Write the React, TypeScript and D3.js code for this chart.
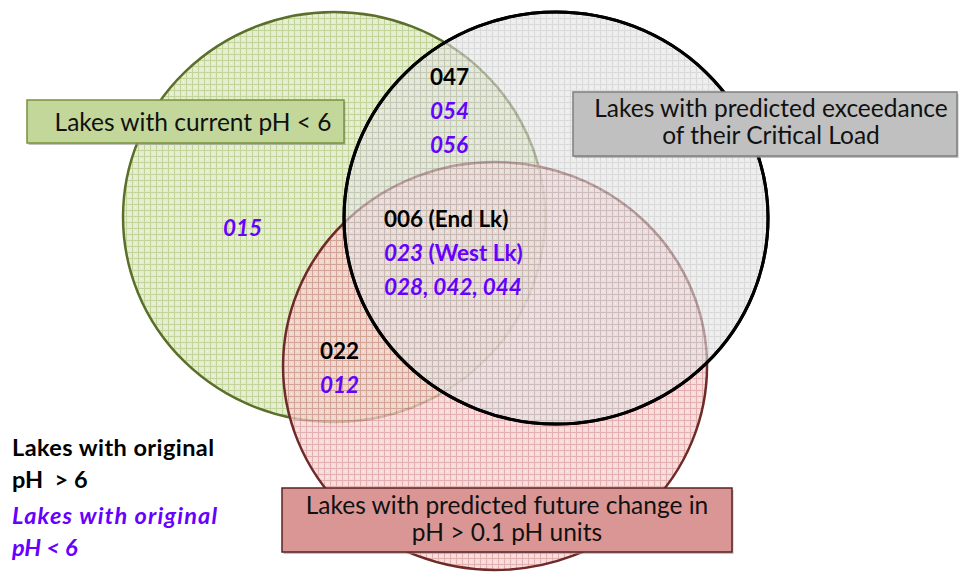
import React, { useEffect, useRef } from "react";
import * as d3 from "d3";

// set names (drawn in this order: green, red, grey on top)
const setKeys = ["current", "future", "critical"];
const setTitles = [
  ["Lakes with current pH < 6"],
  ["Lakes with predicted future change in", "pH > 0.1 pH units"],
  ["Lakes with predicted exceedance", "of their Critical Load"],
];

// lake ids per region: black = original pH > 6, purple = original pH < 6
const currentOnlyBlack: string[] = [];
const currentOnlyPurple = ["015"];
const currentCriticalBlack = ["047"];
const currentCriticalPurple = ["054", "056"];
const allThreeBlack = ["006 (End Lk)"];
const allThreePurple = ["023|(West Lk)", "028, 042, 044"];
const currentFutureBlack = ["022"];
const currentFuturePurple = ["012"];

const legendBlack = ["Lakes with original", "pH  > 6"];
const legendPurple = ["Lakes with original", "pH < 6"];

const PURPLE = "#6600ff";
const FONT = "Lato, 'Open Sans', sans-serif";

export default function App() {
  const ref = useRef<SVGSVGElement>(null);

  useEffect(() => {
    const W = 959, H = 572;
    const svg = d3.select(ref.current);
    svg.selectAll("*").remove();
    svg.attr("width", W).attr("height", H);

    // unit layout -> pixels
    const x = d3.scaleLinear().domain([0, 1]).range([0, W]);
    const y = d3.scaleLinear().domain([0, 1]).range([0, H]);

    const circles: any = {
      current: { cx: 0.3483, cy: 0.3794, rx: 211, ry: 205, bg: "#e4edcf", line: "#c2d49a", stroke: "#5a6f2a", sw: 2.5 },
      future: { cx: 0.5162, cy: 0.6399, rx: 212, ry: 204, bg: "#f3d0d0", line: "#d99494", stroke: "#6e2a28", sw: 2.5 },
      critical: { cx: 0.5798, cy: 0.3811, rx: 212, ry: 206, bg: "#e2e2e2", line: "#c3c3c3", stroke: "#000000", sw: 3 },
    };

    const defs = svg.append("defs");
    setKeys.forEach((k) => {
      const c = circles[k];
      const p = defs.append("pattern")
        .attr("id", "pat-" + k)
        .attr("patternUnits", "userSpaceOnUse")
        .attr("width", 6).attr("height", 6);
      p.append("rect").attr("width", 6).attr("height", 6).attr("fill", c.bg);
      p.append("path").attr("d", "M0 0.5 H6 M0.5 0 V6")
        .attr("stroke", c.line).attr("stroke-width", 1).attr("fill", "none");
      p.append("rect").attr("x", 3).attr("y", 3).attr("width", 1).attr("height", 1)
        .attr("fill", "#ffffff").attr("opacity", 0.6);
    });

    const fillOpacity: any = { current: 1, future: 0.75, critical: 0.62 };

    setKeys.forEach((k) => {
      const c = circles[k];
      svg.append("ellipse")
        .attr("cx", x(c.cx)).attr("cy", y(c.cy))
        .attr("rx", c.rx).attr("ry", c.ry)
        .attr("fill", `url(#pat-${k})`)
        .attr("fill-opacity", fillOpacity[k])
        .attr("stroke", c.stroke)
        .attr("stroke-width", c.sw);
    });
    // black outline of the critical-load circle stays crisp on top
    const cc = circles.critical;
    svg.append("ellipse")
      .attr("cx", x(cc.cx)).attr("cy", y(cc.cy)).attr("rx", cc.rx).attr("ry", cc.ry)
      .attr("fill", "none").attr("stroke", "#000").attr("stroke-width", 3);

    // title boxes
    const boxes: any = {
      current: { x0: 27, y0: 100, x1: 344, y1: 143, fill: "#c4d79b", stroke: "#77933c", base: [131], cx: 193 },
      critical: { x0: 573, y0: 92, x1: 957, y1: 156, fill: "#c0c0c0", stroke: "#7f7f7f", base: [117, 144], cx: 771 },
      future: { x0: 282, y0: 488, x1: 732, y1: 552, fill: "#da9694", stroke: "#5a2220", base: [514, 541], cx: 507 },
    };
    setKeys.forEach((k, i) => {
      const b = boxes[k];
      svg.append("rect")
        .attr("x", b.x0 + 1.5).attr("y", b.y0 + 2)
        .attr("width", b.x1 - b.x0).attr("height", b.y1 - b.y0)
        .attr("fill", "#9a9a9a").attr("opacity", 0.6);
      svg.append("rect")
        .attr("x", b.x0).attr("y", b.y0)
        .attr("width", b.x1 - b.x0).attr("height", b.y1 - b.y0)
        .attr("fill", b.fill).attr("stroke", b.stroke).attr("stroke-width", 1.5);
      setTitles[i].forEach((t, j) => {
        svg.append("text")
          .attr("x", b.cx).attr("y", b.base[j])
          .attr("text-anchor", "middle")
          .attr("font-family", FONT).attr("font-size", 24.5)
          .attr("fill", "#111")
          .text(t);
      });
    });

    // lake labels
    const addLines = (x0: number, y0: number, black: string[], purple: string[], step: number) => {
      let yy = y0;
      black.forEach((t) => {
        svg.append("text").attr("x", x0).attr("y", yy)
          .attr("font-family", FONT).attr("font-size", 22.5).attr("font-weight", 700)
          .attr("fill", "#000").text(t);
        yy += step;
      });
      purple.forEach((t) => {
        const [a, b] = t.split("|");
        const tx = svg.append("text").attr("x", x0).attr("y", yy)
          .attr("font-family", FONT).attr("font-size", 22.5).attr("font-weight", 700)
          .attr("fill", PURPLE);
        tx.append("tspan").attr("font-style", "italic").text(a);
        if (b) tx.append("tspan").text(" " + b);
        yy += step;
      });
    };
    addLines(223, 236, currentOnlyBlack, currentOnlyPurple, 34);
    addLines(430, 85, currentCriticalBlack, currentCriticalPurple, 34);
    addLines(384, 227, allThreeBlack, allThreePurple, 34);
    addLines(320, 359, currentFutureBlack, currentFuturePurple, 34);

    // legend bottom-left
    legendBlack.forEach((t, i) => {
      svg.append("text").attr("x", 12).attr("y", 456 + i * 32)
        .attr("font-family", FONT).attr("font-size", 23.5).attr("font-weight", 700)
        .attr("fill", "#000").style("white-space", "pre")
        .attr("textLength", i === 0 ? 202 : null)
        .text(t);
    });
    legendPurple.forEach((t, i) => {
      svg.append("text").attr("x", 12).attr("y", 524 + i * 32)
        .attr("font-family", FONT).attr("font-size", 23.5).attr("font-weight", 700)
        .attr("font-style", "italic").attr("fill", PURPLE)
        .attr("textLength", i === 0 ? 205 : null)
        .text(t);
    });
  }, []);

  return (
    <div style={{ position: "fixed", left: 0, top: 0, background: "#fff" }}>
      <svg ref={ref} />
    </div>
  );
}
